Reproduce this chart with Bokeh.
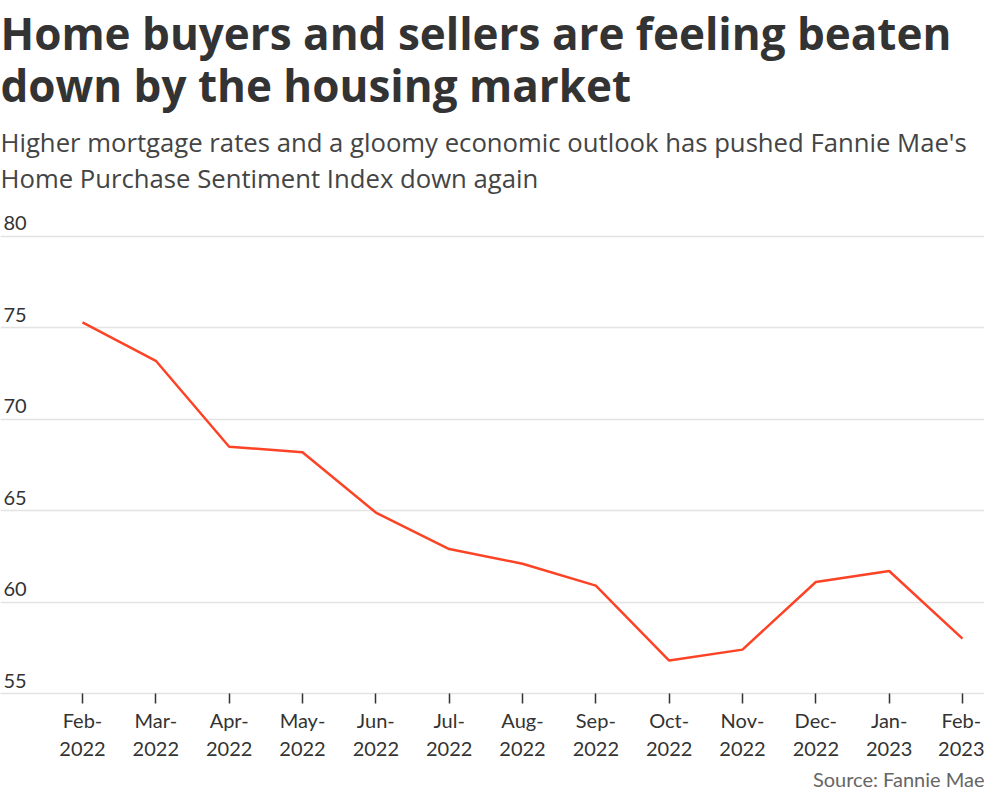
from bokeh.plotting import figure
from bokeh.models import Range1d, FixedTicker, Title, ColumnDataSource
from bokeh.core.properties import value
from bokeh.embed import file_html
from bokeh.resources import INLINE

months = ["Feb-\n2022", "Mar-\n2022", "Apr-\n2022", "May-\n2022", "Jun-\n2022", "Jul-\n2022",
          "Aug-\n2022", "Sep-\n2022", "Oct-\n2022", "Nov-\n2022", "Dec-\n2022", "Jan-\n2023", "Feb-\n2023"]
hpsi = [75.3, 73.2, 68.5, 68.2, 64.9, 62.9, 62.1, 60.9, 56.8, 57.4, 61.1, 61.7, 58.0]
y_ticks = [55, 60, 65, 70, 75, 80]

title_lines = ["Home buyers and sellers are feeling beaten", "down by the housing market"]
subtitle_lines = ["Higher mortgage rates and a gloomy economic outlook has pushed Fannie Mae's",
                  "Home Purchase Sentiment Index down again"]
source_text = "Source: Fannie Mae"

idx = list(range(len(months)))

X0, X1 = -1.118, 12.30

p = figure(width=984, height=791, output_backend="svg", toolbar_location=None,
           x_range=Range1d(X0, X1), y_range=Range1d(55, 81.75),
           min_border_left=0, min_border_right=0, min_border_top=0, min_border_bottom=0)
p.outline_line_color = None
p.background_fill_color = "white"
p.border_fill_color = "white"

p.add_layout(Title(text="\n".join(subtitle_lines), text_font="Open Sans", text_font_size="25.7px",
                   text_font_style="normal", text_color="#444444", standoff=16,
                   text_line_height=1.03), "above")
p.add_layout(Title(text="\n".join(title_lines), text_font="Open Sans", text_font_size="44px",
                   text_font_style="bold", text_color="#333333", standoff=0,
                   text_line_height=0.88), "above")
p.add_layout(Title(text=source_text, text_font="Lato", text_font_size="20px",
                   text_font_style="normal", text_color="#666666", align="right", standoff=2), "below")

# y axis hidden, gridlines only
p.yaxis.visible = False
p.ygrid.ticker = FixedTicker(ticks=y_ticks)
p.ygrid.grid_line_color = "#e3e3e3"
p.ygrid.grid_line_width = 1.5
p.xgrid.grid_line_color = None

# x axis
p.xaxis.ticker = FixedTicker(ticks=idx)
p.xaxis.major_label_overrides = {i: m for i, m in zip(idx, months)}
p.xaxis.axis_line_color = "#e3e3e3"
p.xaxis.axis_line_width = 1.5
p.xaxis.major_tick_line_color = "#333333"
p.xaxis.major_tick_line_width = 1.5
p.xaxis.major_tick_in = 0
p.xaxis.major_tick_out = 10
p.xaxis.minor_tick_line_color = None
p.xaxis.major_label_text_font = "Lato"
p.xaxis.major_label_text_font_size = "20px"
p.xaxis.major_label_text_color = "#333333"
p.xaxis.major_label_standoff = 4

# y tick labels as text above gridlines
ysrc = ColumnDataSource(dict(x=[X0] * len(y_ticks), y=y_ticks, t=[str(v) for v in y_ticks]))
p.text(x="x", y="y", text="t", source=ysrc, text_font=value("Lato"), text_font_size="20px",
       text_color="#333333", text_baseline="bottom", text_align="left", x_offset=3, y_offset=-6)

p.line(idx, hpsi, line_color="#fd4326", line_width=2.5)

open("out.html", "w").write(file_html(p, INLINE))
